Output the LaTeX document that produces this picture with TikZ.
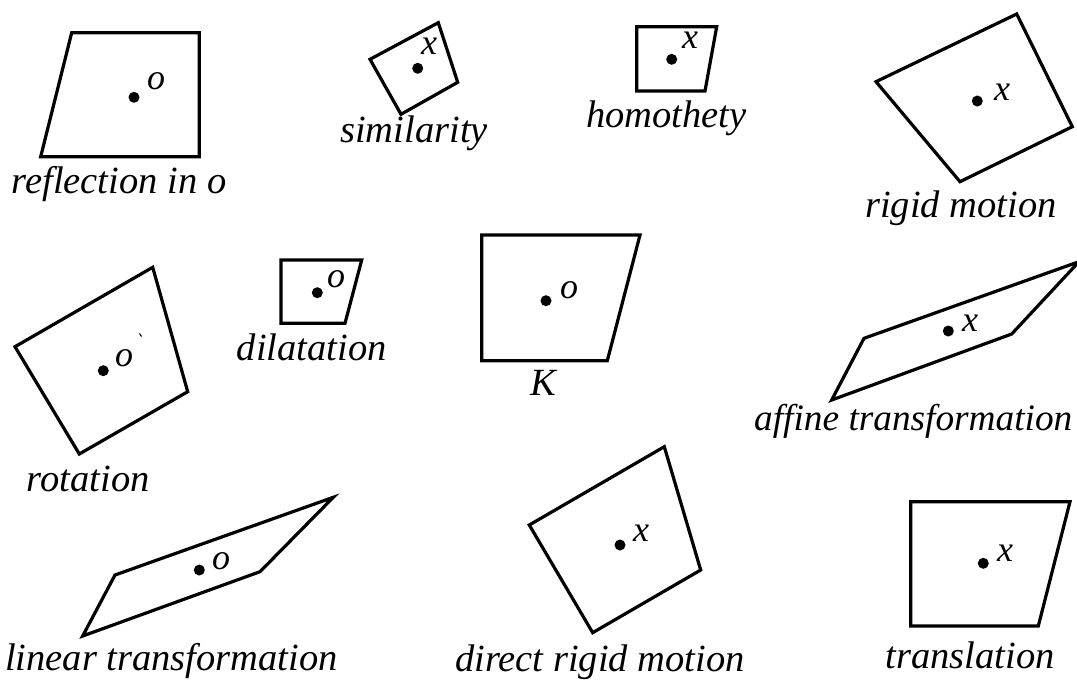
\documentclass[tikz,border=0pt]{standalone}
\usepackage{fontspec}
\setmainfont{Liberation Serif}
\begin{document}
\begin{tikzpicture}[x=1pt,y=-1pt,
  quad/.style={draw=black,line width=3.2pt,line join=miter},
  dotpt/.style={circle,fill=black,inner sep=0pt,minimum size=11pt},
  lab/.style={inner sep=0pt,anchor=base,font=\fontsize{36}{36}\selectfont\itshape},
  captxt/.style={inner sep=0pt,anchor=base,font=\fontsize{38.5}{38.5}\selectfont\itshape}]
\useasboundingbox (0,0) rectangle (1077,680);
\clip (0,0) rectangle (1077,680);
% reflection in o
\draw[quad] (71.7,32.7) -- (199.3,32.7) -- (199.3,156.7) -- (40.7,156.7) -- cycle;
\node[dotpt] (d1) at (134,97.3) {};
\node[lab] (l1) at (156,89) {o};
\node[captxt] (c1) at (119,193) {reflection in o};
% similarity
\draw[quad] (438.3,22.7) -- (457.7,82.3) -- (401,114.3) -- (370,59.3) -- cycle;
\node[dotpt] (d2) at (417.7,68.3) {};
\node[lab] (l2) at (429,54) {x};
\node[captxt] (c2) at (414,142) {similarity};
% homothety
\draw[quad] (636.7,26.7) -- (716.7,26.7) -- (705,91) -- (636.7,91) -- cycle;
\node[dotpt] (d3) at (671.7,59.3) {};
\node[lab] (l3) at (690,48) {x};
\node[captxt] (c3) at (666.5,127) {homothety};
% rigid motion
\draw[quad] (1016.7,14) -- (1072.3,126.7) -- (960,181.7) -- (876,81.7) -- cycle;
\node[dotpt] (d4) at (977.3,101) {};
\node[lab] (l4) at (1002,100) {x};
\node[captxt] (c4) at (960.8,217) {rigid motion};
% rotation
\draw[quad] (152.7,267.3) -- (187.7,391.7) -- (79.3,454) -- (15,346.7) -- cycle;
\node[dotpt] (d5) at (103.3,370.7) {};
\node[lab] (l5) at (124,366) {o};
\draw[line width=1pt] (139.5,333.5) -- (141.5,336.5);
\node[captxt] (c5) at (88.3,491.7) {rotation};
% dilatation
\draw[quad] (281,260) -- (361.7,260) -- (345,323.3) -- (281,323.3) -- cycle;
\node[dotpt] (d6) at (317.3,292.7) {};
\node[lab] (l6) at (336,287) {o};
\node[captxt] (c6) at (311.7,360) {dilatation};
% K
\draw[quad] (481.7,235) -- (640,235) -- (607.3,360.7) -- (481.7,360.7) -- cycle;
\node[dotpt] (d7) at (546,300.7) {};
\node[lab] (l7) at (569,298) {o};
\node[captxt] (c7) at (543.3,395) {K};
% affine transformation
\draw[quad] (1079,261.7) -- (1011.7,334) -- (831.7,400) -- (864,338.3) -- cycle;
\node[dotpt] (d8) at (948.3,331) {};
\node[lab] (l8) at (970,331) {x};
\node[captxt,anchor=base west,font=\fontsize{37.3}{37.3}\selectfont\itshape] (c8) at (754,430) {affine transformation};
% linear transformation
\draw[quad] (333.3,497.3) -- (260,571.7) -- (82.7,636) -- (115,575) -- cycle;
\node[dotpt] (d9) at (199.3,570) {};
\node[lab] (l9) at (221,569) {o};
\node[captxt] (c9) at (171.5,670) {linear transformation};
% direct rigid motion
\draw[quad] (664.3,446.7) -- (700.7,570) -- (592.7,632.7) -- (529.3,525) -- cycle;
\node[dotpt] (d10) at (620,545) {};
\node[lab] (l10) at (641,541) {x};
\node[captxt] (c10) at (600,671) {direct rigid motion};
% translation
\draw[quad] (910.7,501.7) -- (1070,501.7) -- (1038.3,626) -- (910.7,626) -- cycle;
\node[dotpt] (d11) at (983.3,563.3) {};
\node[lab] (l11) at (1005,561) {x};
\node[captxt] (c11) at (970,668) {translation};
\end{tikzpicture}
\end{document}
